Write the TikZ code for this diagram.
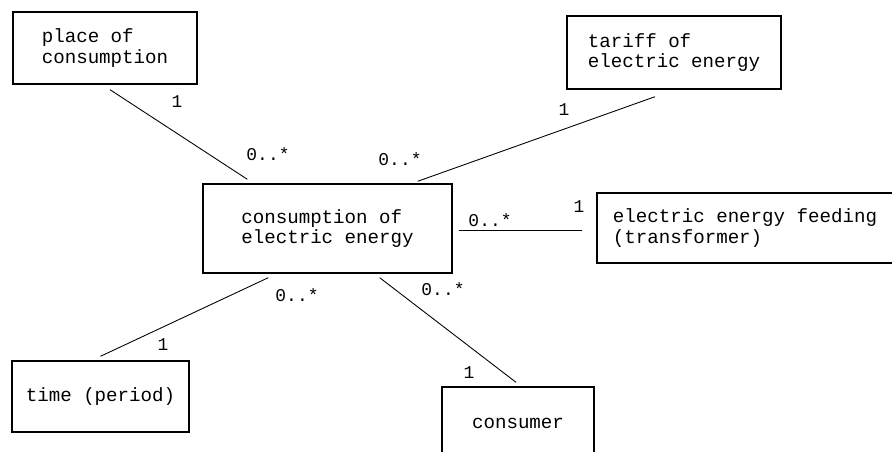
\documentclass[tikz,border=0pt]{standalone}
\usepackage{fontspec}
\setmonofont{Liberation Mono}
\tikzset{
  entity/.style={draw, line width=0.8pt, align=left, font=\ttfamily\fontsize{10.9}{11.6}\selectfont},
  mult/.style={font=\ttfamily\fontsize{10.2}{11}\selectfont, inner sep=0pt},
  assoc/.style={line width=0.5pt}
}
\begin{document}
\begin{tikzpicture}[x=0.02cm, y=-0.02cm]
\clip (0,0) rectangle (892,452);
\node[entity, minimum width=184*0.02cm, minimum height=72*0.02cm] (place) at (105,48) {place of\\consumption};
\node[entity, minimum width=214*0.02cm, minimum height=73*0.02cm] (tariff) at (674,52.5) {tariff of\\electric energy};
\node[entity, minimum width=249*0.02cm, minimum height=89*0.02cm] (cons) at (327.5,228.5) {consumption of\\electric energy};
\node[entity, minimum width=296*0.02cm, minimum height=70*0.02cm] (feed) at (745,228) {electric energy feeding\\(transformer)};
\node[entity, minimum width=177*0.02cm, minimum height=71*0.02cm] (time) at (100.5,396.5) {time (period)};
\node[entity, minimum width=152*0.02cm, minimum height=72*0.02cm] (consumer) at (518,423) {consumer};

% associations
\draw[assoc] ([shift={(5,5)}]place.south) -- ([shift={(45,-4)}]cons.north west);
\draw[assoc] ([shift={(-19,7)}]tariff.south) -- ([shift={(-35,-2)}]cons.north east);
\draw[assoc] ([shift={(6,2)}]cons.east) -- ([shift={(-14,2.5)}]feed.west);
\draw[assoc] ([shift={(66,4)}]cons.south west) -- ([shift={(0,-4)}]time.north);
\draw[assoc] ([shift={(-73,4)}]cons.south east) -- ([shift={(-2,-4)}]consumer.north);

% multiplicities
\node[mult] (m1a) at (177,102) {1}; \node[mult] (m1b) at (268,154) {0..*};
\node[mult] (m2a) at (564,110) {1}; \node[mult] (m2b) at (400,159) {0..*};
\node[mult] (m3a) at (579,207) {1}; \node[mult] (m3b) at (490,220) {0..*};
\node[mult] (m4a) at (163,345) {1}; \node[mult] (m4b) at (297,295) {0..*};
\node[mult] (m5a) at (469,373) {1}; \node[mult] (m5b) at (443,289) {0..*};
\end{tikzpicture}
\end{document}
